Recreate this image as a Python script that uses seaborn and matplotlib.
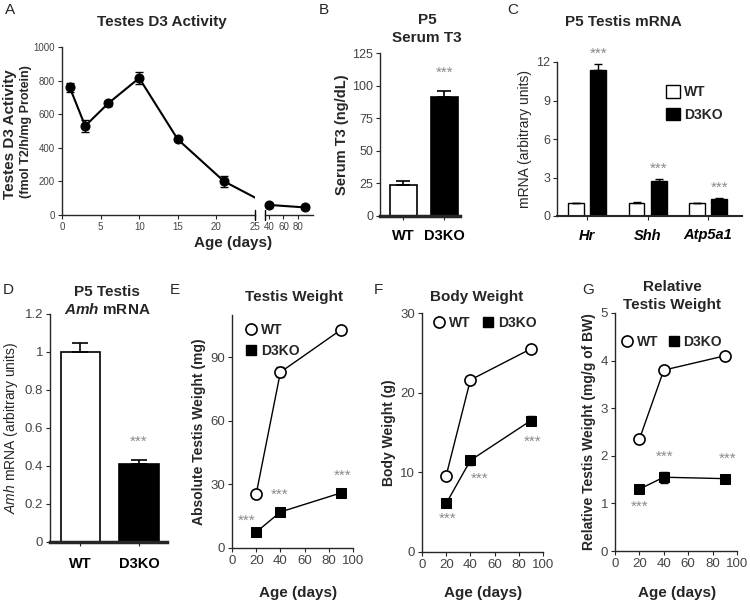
import numpy as np
import pandas as pd
import seaborn as sns
import matplotlib.pyplot as plt
from matplotlib.lines import Line2D
from matplotlib.patches import Patch

sns.set_style("ticks")
plt.rcParams['font.family'] = ['Liberation Sans', 'DejaVu Sans']
plt.rcParams['mathtext.fontset'] = 'custom'
plt.rcParams['mathtext.rm'] = 'Liberation Sans'
plt.rcParams['mathtext.it'] = 'Liberation Sans:italic'
plt.rcParams['mathtext.bf'] = 'Liberation Sans:italic:bold'

## A - testes D3 activity
d3_days_early = [1, 3, 6, 10, 15, 21]
d3_act_early = [760, 530, 665, 815, 450, 200]
d3_err_early = [25, 35, 15, 35, 10, 35]
d3_days_late = [40, 90]
d3_act_late = [60, 45]
d3_err_late = [12, 10]

## B - serum T3
genotypes = ['WT', 'D3KO']
t3_mean = [24, 91]
t3_err = [3, 5]

## C - testis mRNA
genes = ['Hr', 'Shh', 'Atp5a1']
mrna_wt = [1.0, 1.0, 1.0]
mrna_ko = [11.35, 2.7, 1.35]
mrna_wt_err = [0.05, 0.08, 0.02]
mrna_ko_err = [0.5, 0.2, 0.04]

## D - Amh mRNA
amh_mean = [1.0, 0.41]
amh_err = [0.05, 0.02]

## E-G weights
ages = [20, 40, 90]
testis_wt = [25.5, 83, 103]
testis_ko = [7.5, 17, 26]
testis_wt_err = [1.0, 2.5, 1.5]
testis_ko_err = [0.5, 1.0, 0.8]
body_wt = [9.6, 21.6, 25.5]
body_ko = [6.1, 11.5, 16.5]
body_wt_err = [0.3, 0.3, 0.3]
body_ko_err = [0.3, 0.6, 0.6]
rel_wt = [2.35, 3.8, 4.1]
rel_ko = [1.3, 1.55, 1.52]
rel_wt_err = [0.05, 0.05, 0.05]
rel_ko_err = [0.05, 0.12, 0.08]

# significance stars (x, y in data units)
stars_e = [(12, 13), (39, 25), (91, 34)]
stars_f = [(21, 4.2), (48, 9.2), (91, 13.8)]
stars_g = [(20, 0.92), (41, 1.98), (92, 1.93)]

W, H = 750, 605
fig = plt.figure(figsize=(W / 100, H / 100), dpi=100)
STAR = '#8a8a8a'
TICKC = '#444444'


def px_axes(l, t, r, b):
    return fig.add_axes([l / W, 1 - b / H, (r - l) / W, (b - t) / H])


def style(ax, lsize=8, bottom_lw=1.0):
    sns.despine(ax=ax)
    ax.spines['left'].set_linewidth(1.0)
    ax.spines['bottom'].set_linewidth(bottom_lw)
    ax.tick_params(direction='out', length=3, width=0.8, labelsize=lsize,
                   labelcolor=TICKC, pad=2)


def ftext(x, y, s, **kw):
    fig.text(x / W, 1 - y / H, s, **kw)


# ---------------- A ----------------
ax1 = px_axes(62, 47, 255, 215)
ax2 = px_axes(265, 47, 313, 215)
for ax in (ax1, ax2):
    style(ax, lsize=7)
    ax.set_ylim(0, 1000)
ax1.set_xlim(0, 25)
ax1.set_xticks([0, 5, 10, 15, 20, 25])
ax1.set_yticks(range(0, 1001, 200))
ax2.set_xlim(34.5, 100.7)
ax2.set_xticks([40, 60, 80])
ax2.spines['left'].set_visible(False)
ax2.tick_params(left=False, labelleft=False)

ax1.errorbar(d3_days_early, d3_act_early, yerr=d3_err_early, fmt='none',
             ecolor='black', elinewidth=1, capsize=3)
sns.lineplot(x=d3_days_early, y=d3_act_early, ax=ax1, color='black', lw=1.5,
             marker='o', ms=6.5, mec='black', clip_on=False)
ax2.errorbar(d3_days_late, d3_act_late, yerr=d3_err_late, fmt='none',
             ecolor='black', elinewidth=1, capsize=3)
sns.lineplot(x=d3_days_late, y=d3_act_late, ax=ax2, color='black', lw=1.5,
             marker='o', ms=6.5, mec='black', clip_on=False)
# connecting segment across the axis break
p_disp = ax2.transData.transform((d3_days_late[0], d3_act_late[0]))
p_ax1 = ax1.transData.inverted().transform(p_disp)
ax1.plot([d3_days_early[-1], p_ax1[0]], [d3_act_early[-1], p_ax1[1]],
         color='black', lw=1.5, clip_on=True)
# break marks
ax1.plot([1, 1], [-0.03, 0.03], transform=ax1.transAxes, color='black', lw=1, clip_on=False)
ax2.plot([0, 0], [-0.03, 0.03], transform=ax2.transAxes, color='black', lw=1, clip_on=False)

ftext(162, 22, 'Testes D3 Activity', ha='center', va='center', fontsize=11, fontweight='bold')
ftext(10, 199, 'Testes D3 Activity', rotation=90, ha='center', va='bottom',
      fontsize=11, fontweight='bold')
ftext(26, 198, '(fmol T2/h/mg Protein)', rotation=90, ha='center', va='bottom',
      fontsize=9, fontweight='bold')
ftext(233, 243, 'Age (days)', ha='center', va='center', fontsize=11, fontweight='bold')

# ---------------- B ----------------
axB = px_axes(380, 53, 460, 216)
df_b = pd.DataFrame({'genotype': genotypes, 't3': t3_mean})
sns.barplot(data=df_b, x='genotype', y='t3', hue='genotype', palette=['white', 'black'],
            edgecolor='black', linewidth=1.2, width=0.66, errorbar=None, legend=False, ax=axB)
axB.errorbar(range(len(genotypes)), t3_mean, yerr=[[0, 0], t3_err], fmt='none',
             ecolor='black', elinewidth=1.2, capsize=5, capthick=1.2)
style(axB, lsize=9, bottom_lw=2.5)
axB.set_xlim(-0.57, 1.38)
axB.set_ylim(0, 125)
axB.set_yticks(range(0, 126, 25))
axB.set_xlabel('')
axB.set_ylabel('Serum T3 (ng/dL)', fontsize=10.5, fontweight='bold', labelpad=2)
axB.tick_params(axis='x', labelsize=10.5, labelcolor='black', pad=6)
for lab in axB.get_xticklabels():
    lab.set_fontweight('bold')
axB.text(1, 110, '***', ha='center', va='center', fontsize=11, color=STAR)
ftext(427, 20, 'P5', ha='center', va='center', fontsize=11, fontweight='bold')
ftext(427, 38, 'Serum T3', ha='center', va='center', fontsize=11, fontweight='bold')

# ---------------- C ----------------
axC = px_axes(557, 62, 742, 216)
df_c = pd.DataFrame({
    'gene': genes * 2,
    'genotype': ['WT'] * 3 + ['D3KO'] * 3,
    'value': mrna_wt + mrna_ko,
})
sns.barplot(data=df_c, x='gene', y='value', hue='genotype',
            palette={'WT': 'white', 'D3KO': 'black'}, edgecolor='black', linewidth=1,
            width=0.74, gap=0.29, errorbar=None, legend=False, ax=axC)
xg = np.arange(len(genes))
axC.errorbar(xg - 0.185, mrna_wt, yerr=[np.zeros(3), mrna_wt_err], fmt='none',
             ecolor='black', elinewidth=1, capsize=3)
axC.errorbar(xg + 0.185, mrna_ko, yerr=[np.zeros(3), mrna_ko_err], fmt='none',
             ecolor='black', elinewidth=1, capsize=3)
style(axC, lsize=9, bottom_lw=1.5)
axC.set_xlim(-0.5, 2.56)
axC.set_ylim(0, 12)
axC.set_yticks([0, 3, 6, 9, 12])
axC.set_xlabel('')
axC.set_ylabel('mRNA (arbitrary units)', fontsize=10, labelpad=3)
axC.tick_params(axis='x', labelsize=10.5, labelcolor='black', pad=6)
for lab in axC.get_xticklabels():
    lab.set_fontweight('bold')
    lab.set_fontstyle('italic')
for i, (v, e) in enumerate(zip(mrna_ko, mrna_ko_err)):
    axC.text(i + 0.185, v + e + 0.8, '***', ha='center', va='center', fontsize=11, color=STAR)
axC.legend(handles=[Patch(facecolor='white', edgecolor='black', label='WT'),
                    Patch(facecolor='black', edgecolor='black', label='D3KO')],
           loc='upper left', bbox_to_anchor=(0.52, 0.93), frameon=False,
           prop={'weight': 'bold', 'size': 10}, handlelength=1.0, handleheight=1.0,
           handletextpad=0.3, labelspacing=0.6)
ftext(623, 22, 'P5 Testis mRNA', ha='center', va='center', fontsize=11, fontweight='bold')

# ---------------- D ----------------
axD = px_axes(50, 314, 167, 542)
df_d = pd.DataFrame({'genotype': genotypes, 'amh': amh_mean})
sns.barplot(data=df_d, x='genotype', y='amh', hue='genotype', palette=['white', 'black'],
            edgecolor='black', linewidth=1.2, width=0.68, errorbar=None, legend=False, ax=axD)
axD.errorbar(range(len(genotypes)), amh_mean, yerr=[[0, 0], amh_err], fmt='none',
             ecolor='black', elinewidth=1.2, capsize=6, capthick=1.2)
style(axD, lsize=9.5, bottom_lw=2.5)
axD.set_xlim(-0.52, 1.48)
axD.set_ylim(0, 1.2)
axD.set_yticks([0, 0.2, 0.4, 0.6, 0.8, 1.0, 1.2])
axD.set_yticklabels(['0', '0.2', '0.4', '0.6', '0.8', '1', '1.2'])
axD.set_xlabel('')
axD.set_ylabel(r'$\mathit{Amh}$ mRNA (arbitrary units)', fontsize=10, labelpad=3)
axD.tick_params(axis='x', labelsize=10.5, labelcolor='black', pad=8)
for lab in axD.get_xticklabels():
    lab.set_fontweight('bold')
axD.text(1, amh_mean[1] + amh_err[1] + 0.1, '***', ha='center', va='center',
         fontsize=11, color=STAR)
ftext(107, 292, 'P5 Testis', ha='center', va='center', fontsize=11, fontweight='bold')
ftext(107, 309, r'$\mathbf{Amh}$ mRNA', ha='center', va='center', fontsize=11, fontweight='bold')


# ---------------- E, F, G ----------------
def weight_panel(ax, wt, ko, wt_err, ko_err, ylim, yticks, ylabel, stars):
    ax.errorbar(ages, wt, yerr=wt_err, fmt='none', ecolor='black', elinewidth=1, capsize=3)
    ax.errorbar(ages, ko, yerr=ko_err, fmt='none', ecolor='black', elinewidth=1, capsize=3)
    sns.lineplot(x=ages, y=wt, ax=ax, color='black', lw=1, marker='o', ms=8,
                 mfc='white', mec='black', mew=1.2, clip_on=False)
    sns.lineplot(x=ages, y=ko, ax=ax, color='black', lw=1, marker='s', ms=6.5,
                 mfc='black', mec='black', clip_on=False)
    style(ax, lsize=9.5)
    ax.set_xlim(0, 100)
    ax.set_xticks(range(0, 101, 20))
    ax.set_ylim(*ylim)
    ax.set_yticks(yticks)
    ax.set_ylabel(ylabel, fontsize=10, fontweight='bold', labelpad=3)
    for sx, sy in stars:
        ax.text(sx, sy, '***', ha='center', va='center', fontsize=11, color=STAR)


leg_handles = [Line2D([], [], ls='none', marker='o', ms=8, mfc='white', mec='black', mew=1.2, label='WT'),
               Line2D([], [], ls='none', marker='s', ms=7, mfc='black', mec='black', label='D3KO')]
leg_prop = {'weight': 'bold', 'size': 10}

axE = px_axes(232, 315, 353, 548)
weight_panel(axE, testis_wt, testis_ko, testis_wt_err, testis_ko_err,
             (0, 110), [0, 30, 60, 90], 'Absolute Testis Weight (mg)', stars_e)
axE.legend(handles=leg_handles, loc='upper left', bbox_to_anchor=(0.0, 1.02), frameon=False,
           prop=leg_prop, handletextpad=0.2, labelspacing=0.5, handlelength=1)
ftext(294, 297, 'Testis Weight', ha='center', va='center', fontsize=11, fontweight='bold')
ftext(298, 593, 'Age (days)', ha='center', va='center', fontsize=11, fontweight='bold')

axF = px_axes(422, 313, 543, 552)
weight_panel(axF, body_wt, body_ko, body_wt_err, body_ko_err,
             (0, 30), [0, 10, 20, 30], 'Body Weight (g)', stars_f)
axF.legend(handles=leg_handles, loc='upper left', bbox_to_anchor=(-0.02, 1.04), frameon=False,
           prop=leg_prop, ncol=2, handletextpad=0.2, columnspacing=0.8, handlelength=1)
ftext(477, 297, 'Body Weight', ha='center', va='center', fontsize=11, fontweight='bold')
ftext(483, 593, 'Age (days)', ha='center', va='center', fontsize=11, fontweight='bold')

axG = px_axes(615, 313, 737, 551)
weight_panel(axG, rel_wt, rel_ko, rel_wt_err, rel_ko_err,
             (0, 5), [0, 1, 2, 3, 4, 5], 'Relative Testis Weight (mg/g of BW)', stars_g)
axG.legend(handles=leg_handles, loc='upper left', bbox_to_anchor=(-0.06, 0.96), frameon=False,
           prop=leg_prop, ncol=2, handletextpad=0.2, columnspacing=0.6, handlelength=1)
ftext(672, 287, 'Relative', ha='center', va='center', fontsize=11, fontweight='bold')
ftext(672, 305, 'Testis Weight', ha='center', va='center', fontsize=11, fontweight='bold')
ftext(677, 593, 'Age (days)', ha='center', va='center', fontsize=11, fontweight='bold')

# panel letters
for letter, (lx, ly) in zip('ABCDEFG', [(10, 10), (324, 10), (513, 10), (8, 290),
                                       (175, 290), (378, 290), (588, 290)]):
    ftext(lx, ly, letter, ha='center', va='center', fontsize=11)

fig.savefig('out.png', dpi=100)
